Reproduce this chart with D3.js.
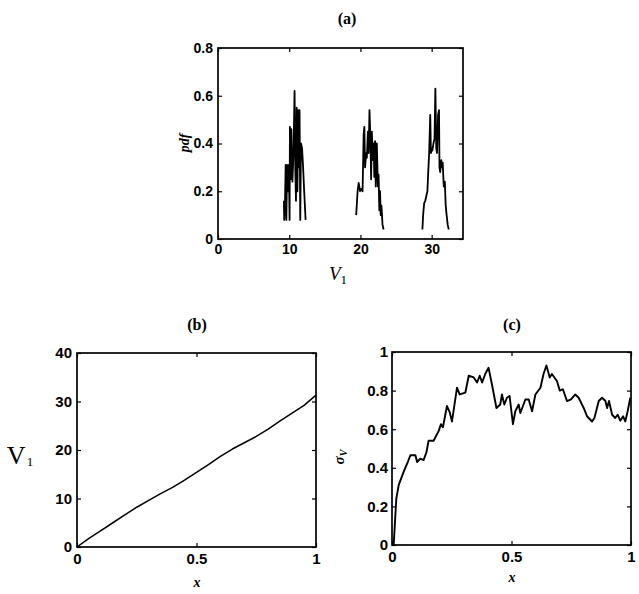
<!DOCTYPE html>
<html><head><meta charset="utf-8">
<script src="https://cdn.jsdelivr.net/npm/d3@7"></script>
<style>body{margin:0;background:#fff}svg{display:block}</style>
</head><body><svg id="chart" width="639" height="594"></svg>
<script>
// ---------- DATA ----------
// Panel (a): pdf of V1 at three locations (three clusters)
const pdfCluster1 = [[9.25,0.16],[9.3,0.08],[9.4,0.14],[9.5,0.31],[9.6,0.08],[9.7,0.31],[9.85,0.2],[9.95,0.31],[10.05,0.08],[10.1,0.47],[10.2,0.25],[10.3,0.46],[10.45,0.24],[10.6,0.36],[10.75,0.62],[10.85,0.3],[10.95,0.16],[11.05,0.55],[11.15,0.2],[11.25,0.54],[11.35,0.3],[11.45,0.54],[11.55,0.08],[11.65,0.4],[11.8,0.38],[11.95,0.3],[12.1,0.2],[12.3,0.08]];
const pdfCluster2 = [[19.4,0.10],[19.6,0.2],[19.75,0.235],[19.95,0.2],[20.1,0.21],[20.3,0.2],[20.45,0.44],[20.55,0.47],[20.65,0.3],[20.8,0.36],[20.9,0.34],[21.05,0.45],[21.15,0.36],[21.27,0.54],[21.4,0.42],[21.5,0.25],[21.6,0.45],[21.75,0.33],[21.85,0.4],[21.95,0.26],[22.05,0.41],[22.15,0.22],[22.3,0.4],[22.45,0.22],[22.55,0.27],[22.65,0.12],[22.75,0.2],[22.85,0.1],[22.95,0.14],[23.1,0.06],[23.25,0.04]];
const pdfCluster3 = [[28.7,0.04],[28.8,0.1],[28.95,0.15],[29.1,0.16],[29.25,0.18],[29.4,0.2],[29.55,0.3],[29.65,0.36],[29.8,0.52],[29.9,0.36],[30.0,0.38],[30.1,0.37],[30.25,0.4],[30.4,0.42],[30.52,0.63],[30.65,0.38],[30.75,0.36],[30.9,0.52],[31.03,0.54],[31.1,0.3],[31.2,0.28],[31.35,0.33],[31.45,0.3],[31.55,0.32],[31.7,0.22],[31.85,0.24],[31.97,0.14],[32.1,0.1],[32.25,0.06],[32.4,0.04]];
const aXTicks = [0,10,20,30];
const aYTicks = [0,0.2,0.4,0.6,0.8];

// Panel (b): mean V1 vs x
const bX  = [0,0.05,0.1,0.15,0.2,0.25,0.3,0.35,0.4,0.45,0.5,0.55,0.6,0.65,0.7,0.75,0.8,0.85,0.9,0.95,1];
const bV1 = [0,1.8,3.4,5.0,6.6,8.2,9.6,11.0,12.3,13.8,15.4,17.0,18.7,20.2,21.5,22.8,24.3,26.0,27.6,29.2,31.3];
const bXTicks = [0,0.5,1];
const bYTicks = [0,10,20,30,40];

// Panel (c): sigma_V vs x
const cX = [0.007,0.018,0.028,0.049,0.066,0.077,0.098,0.105,0.118,0.132,0.144,0.153,0.174,0.195,0.205,0.213,0.23,0.241,0.251,0.272,0.283,0.307,0.321,0.342,0.356,0.367,0.377,0.39,0.404,0.418,0.437,0.453,0.46,0.47,0.481,0.492,0.506,0.516,0.53,0.537,0.558,0.572,0.586,0.6,0.621,0.634,0.646,0.66,0.669,0.69,0.702,0.715,0.732,0.749,0.767,0.781,0.802,0.816,0.837,0.847,0.865,0.879,0.893,0.9,0.908,0.921,0.934,0.944,0.955,0.967,0.976,0.986,0.997];
const cSigma = [0,0.24,0.31,0.38,0.43,0.465,0.465,0.43,0.447,0.44,0.48,0.54,0.54,0.59,0.626,0.61,0.72,0.69,0.64,0.815,0.78,0.79,0.877,0.868,0.842,0.877,0.842,0.886,0.918,0.833,0.71,0.728,0.78,0.728,0.763,0.772,0.626,0.693,0.728,0.684,0.754,0.754,0.693,0.78,0.815,0.886,0.93,0.868,0.886,0.85,0.8,0.807,0.746,0.754,0.78,0.763,0.71,0.667,0.64,0.658,0.746,0.763,0.746,0.71,0.746,0.675,0.658,0.675,0.644,0.667,0.64,0.693,0.763];
const cXTicks = [0,0.5,1];
const cYTicks = [0,0.2,0.4,0.6,0.8,1];

// ---------- DRAWING ----------
const svg = d3.select("#chart");
const fmt = d => d === 0 ? "0" : (Number.isInteger(d) ? String(d) : d3.format(".1f")(d));
const SERIF = "'Liberation Serif', 'Times New Roman', serif";

function panel(o) {
  const g = svg.append("g");
  const x = d3.scaleLinear().domain(o.xDomain).range([o.left, o.right]);
  const y = d3.scaleLinear().domain(o.yDomain).range([o.bottom, o.top]);
  const tk = 4;
  const styleAxis = sel => {
    sel.select(".domain").remove();
    sel.selectAll(".tick line").attr("stroke", "#000").attr("stroke-width", 1.2);
    sel.selectAll("text").attr("font-family", "'Liberation Sans', Arial, sans-serif")
      .attr("font-weight", "bold").attr("font-size", o.tickFont).attr("fill", "#000");
  };
  g.append("g").attr("transform", `translate(0,${o.bottom})`)
    .call(d3.axisBottom(x).tickValues(o.xTicks).tickFormat(fmt).tickSizeInner(-tk).tickSizeOuter(0).tickPadding(o.xPad))
    .call(styleAxis);
  g.append("g").attr("transform", `translate(0,${o.top})`)
    .call(d3.axisTop(x).tickValues(o.xTicks).tickFormat("").tickSizeInner(-tk).tickSizeOuter(0))
    .call(styleAxis);
  g.append("g").attr("transform", `translate(${o.left},0)`)
    .call(d3.axisLeft(y).tickValues(o.yTicks).tickFormat(fmt).tickSizeInner(-tk).tickSizeOuter(0).tickPadding(o.yPad))
    .call(styleAxis);
  g.append("g").attr("transform", `translate(${o.right},0)`)
    .call(d3.axisRight(y).tickValues(o.yTicks).tickFormat("").tickSizeInner(-tk).tickSizeOuter(0))
    .call(styleAxis);
  g.append("rect").attr("x", o.left).attr("y", o.top)
    .attr("width", o.right - o.left).attr("height", o.bottom - o.top)
    .attr("fill", "none").attr("stroke", "#000").attr("stroke-width", 1.7);
  const line = d3.line().x(d => x(d[0])).y(d => y(d[1]));
  o.series.forEach(s => {
    g.append("path").datum(s).attr("d", line).attr("fill", "none")
      .attr("stroke", "#000").attr("stroke-width", o.lineW).attr("stroke-linejoin", "round");
  });
  g.append("text").attr("x", o.titleX).attr("y", o.titleY).attr("text-anchor", "middle")
    .attr("dominant-baseline", "central")
    .attr("font-family", SERIF).attr("font-weight", "bold")
    .attr("font-size", 16).text(o.title);
  return {g, x, y};
}

// Panel (a)
const A = panel({
  left: 218, right: 463, top: 48, bottom: 239,
  xDomain: [0, 34.4], yDomain: [0, 0.8],
  xTicks: aXTicks, yTicks: aYTicks, xPad: 5, yPad: 5, tickFont: 14,
  series: [pdfCluster1, pdfCluster2, pdfCluster3], lineW: 1.8,
  title: "(a)", titleX: 347, titleY: 18
});
const aV = A.g.append("text").attr("x", 338).attr("y", 280).attr("text-anchor", "middle")
  .attr("font-family", SERIF).attr("font-style", "italic").attr("font-size", 19);
aV.append("tspan").text("V");
aV.append("tspan").attr("font-size", 13).attr("font-style", "normal").attr("dy", 4).text("1");
A.g.append("text").attr("transform", "translate(189,143) rotate(-90)").attr("text-anchor", "middle")
  .attr("font-family", SERIF).attr("font-style", "italic")
  .attr("font-weight", "bold").attr("font-size", 14).text("pdf");

// Panel (b)
const bData = bX.map((v, i) => [v, bV1[i]]);
const B = panel({
  left: 77, right: 316, top: 353, bottom: 547,
  xDomain: [0, 1], yDomain: [0, 40],
  xTicks: bXTicks, yTicks: bYTicks, xPad: 6, yPad: 5, tickFont: 15,
  series: [bData], lineW: 1.5,
  title: "(b)", titleX: 197, titleY: 324
});
const bV = B.g.append("text").attr("x", 20).attr("y", 464).attr("text-anchor", "middle")
  .attr("font-family", SERIF).attr("font-size", 26);
bV.append("tspan").text("V");
bV.append("tspan").attr("font-size", 13).attr("dy", 2).attr("dx", 1).text("1");
B.g.append("text").attr("x", 197).attr("y", 582).attr("text-anchor", "middle")
  .attr("dominant-baseline", "central")
  .attr("font-family", SERIF).attr("font-style", "italic")
  .attr("font-weight", "bold").attr("font-size", 14).text("x");

// Panel (c)
const cData = cX.map((v, i) => [v, cSigma[i]]);
const C = panel({
  left: 392, right: 631, top: 352, bottom: 545,
  xDomain: [0, 1], yDomain: [0, 1],
  xTicks: cXTicks, yTicks: cYTicks, xPad: 6, yPad: 4, tickFont: 15,
  series: [cData], lineW: 1.9,
  title: "(c)", titleX: 512, titleY: 324
});
const cS = C.g.append("text").attr("transform", "translate(344,457) rotate(-90)").attr("text-anchor", "middle")
  .attr("font-family", SERIF).attr("font-style", "italic")
  .attr("font-weight", "bold").attr("font-size", 15);
cS.append("tspan").text("σ");
cS.append("tspan").attr("font-size", 10).attr("dy", 3).text("V");
C.g.append("text").attr("x", 512).attr("y", 577).attr("text-anchor", "middle")
  .attr("dominant-baseline", "central")
  .attr("font-family", SERIF).attr("font-style", "italic")
  .attr("font-weight", "bold").attr("font-size", 14).text("x");
</script>
</body></html>
